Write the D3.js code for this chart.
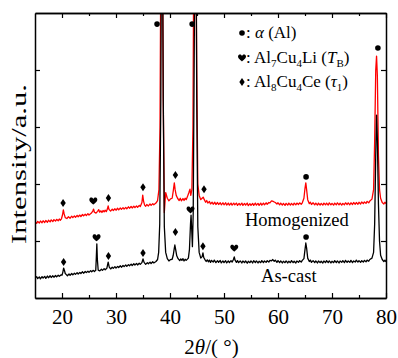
<!DOCTYPE html>
<html>
<head>
<meta charset="utf-8">
<script src="https://cdn.jsdelivr.net/npm/d3@7/dist/d3.min.js"></script>
<style>
  html, body { margin: 0; padding: 0; background: #fff; }
  svg { display: block; }
  text { font-family: "Liberation Serif", "Times New Roman", serif !important; fill: #000; }
</style>
</head>
<body>
<svg id="chart" width="398" height="358"></svg>
<script>
// ---------------- data ----------------
const xTickLabels = [20, 30, 40, 50, 60, 70, 80];
const xMinorTicks = [25, 35, 45, 55, 65, 75];
const yTicks = [200, 400, 600, 800];

// As-cast pattern: [2theta, intensity a.u.]
const asCast = [
  [15.0,70],[15.3,75],[15.5,68],[15.8,74],[16.0,67],[16.3,75],[16.5,70],[16.8,76],[17.0,69],[17.3,77],[17.5,71],[17.8,78],
  [18.0,72],[18.3,78],[18.5,73],[18.8,79],[19.0,74],[19.3,80],[19.5,76],[19.8,81],
  [20.0,80],[20.15,90],[20.3,105],[20.45,97],[20.6,86],[20.8,82],[21.0,78],[21.3,84],[21.5,80],[21.8,86],[22.0,81],[22.3,87],[22.5,83],
  [22.8,89],[23.0,84],[23.3,90],[23.5,86],[23.8,92],[24.0,87],[24.3,93],[24.5,89],[24.8,94],[25.0,90],[25.3,96],[25.5,92],[25.8,97],[26.0,93],
  [26.25,97],[26.35,140],[26.45,190],[26.55,135],[26.7,98],[27.0,95],[27.3,101],[27.5,97],[27.8,103],[28.0,99],
  [28.3,104],[28.55,126],[28.75,108],[29.0,102],[29.3,108],[29.5,104],[29.8,110],
  [30.0,105],[30.3,111],[30.5,107],[30.8,113],[31.0,108],[31.3,114],[31.5,110],[31.8,116],[32.0,111],[32.3,117],[32.5,113],
  [32.8,119],[33.0,114],[33.3,120],[33.5,116],[33.8,121],[34.0,116],[34.3,122],[34.5,118],
  [34.8,124],[35.0,137],[35.2,125],[35.5,118],[35.8,124],[36.0,120],[36.3,126],[36.5,121],[36.8,127],[37.0,123],[37.4,128],[37.7,135],[37.9,160],
  [38.1,260],[38.3,700],[38.45,1400],[38.6,1400],[38.75,700],[38.95,250],[39.2,160],[39.5,138],[39.8,130],[40.1,135],
  [40.4,136],[40.6,150],[40.8,175],[40.9,186],[41.05,170],[41.25,148],[41.5,138],[41.8,131],[42.0,137],[42.2,132],[42.4,138],[42.6,130],
  [42.8,136],[43.0,132],[43.4,140],[43.6,170],[43.8,260],[43.9,291],[44.0,250],[44.15,180],[44.3,300],[44.5,900],[44.65,1400],
  [44.8,1400],[44.95,700],[45.15,250],[45.4,160],[45.7,140],[45.95,145],[46.1,158],[46.25,142],[46.5,134],[46.7,128],[46.9,134],
  [47.1,127],[47.3,133],[47.5,125],[47.7,132],[48.0,126],[48.2,133],[48.5,124],[48.8,131],[49.0,125],[49.3,132],[49.5,123],[49.8,130],
  [50.0,124],[50.3,131],[50.5,123],[50.8,130],[51.0,124],[51.3,131],[51.5,126],
  [51.75,135],[51.9,144],[52.05,133],[52.3,125],[52.5,131],[52.7,124],[53.0,130],[53.3,123],[53.5,130],[53.8,124],[54.0,130],[54.3,122],
  [54.5,129],[54.8,124],[55.0,130],[55.3,123],[55.5,131],[55.8,124],[56.0,130],[56.3,123],[56.5,129],[56.8,124],[57.0,131],[57.3,124],
  [57.5,130],[57.8,125],[58.0,131],[58.3,126],[58.5,132],[58.8,130],[59.0,135],[59.3,129],[59.5,133],[59.8,125],[60.0,131],
  [60.3,124],[60.5,130],[60.8,123],[61.0,129],[61.3,124],[61.5,130],[61.8,123],[62.0,129],[62.3,124],[62.5,131],[62.8,124],[63.0,129],
  [63.3,123],[63.5,130],[63.8,125],[64.0,131],[64.3,126],[64.5,132],[64.8,138],
  [65.0,170],[65.15,193],[65.3,175],[65.5,140],[65.8,128],[66.0,133],[66.2,125],[66.5,131],[66.8,124],[67.0,130],[67.3,123],[67.5,130],
  [67.8,124],[68.0,129],[68.3,123],[68.5,130],[68.8,124],[69.0,131],[69.3,124],[69.5,130],[69.8,123],[70.0,129],[70.3,124],[70.5,131],
  [70.8,124],[71.0,130],[71.3,123],[71.5,130],[71.8,125],[72.0,131],[72.3,124],[72.5,132],[72.8,125],[73.0,130],[73.3,125],[73.5,132],
  [73.8,124],[74.0,130],[74.3,126],[74.5,133],[74.8,126],[75.0,131],[75.3,125],[75.5,131],[75.8,126],[76.0,132],[76.3,127],[76.5,133],
  [76.8,129],[77.0,135],[77.4,140],[77.7,160],
  [77.9,260],[78.1,500],[78.25,642],[78.4,560],[78.6,330],[78.8,200],[79.0,150],[79.3,135],[79.6,128],[79.8,133],[80.0,127]
];

// Homogenized pattern: [2theta, intensity a.u.]
const homogenized = [
  [15.0,267],[15.3,262],[15.5,269],[15.8,263],[16.0,270],[16.3,264],[16.5,271],[16.8,265],[17.0,272],[17.3,266],[17.5,273],[17.8,267],
  [18.0,274],[18.3,268],[18.5,275],[18.8,270],[19.0,276],[19.3,271],[19.5,277],[19.7,273],
  [19.9,278],[20.1,292],[20.25,309],[20.4,295],[20.6,282],[20.9,279],[21.2,285],[21.5,280],[21.8,287],[22.0,282],[22.3,288],[22.5,283],
  [22.8,290],[23.0,285],[23.3,291],[23.5,286],[23.8,293],[24.0,288],[24.3,294],[24.5,289],[24.8,296],[25.0,291],[25.4,297],[25.7,305],[25.85,312],[26.0,301],[26.3,298],
  [26.6,304],[26.8,310],[27.0,301],[27.2,306],[27.4,300],[27.6,307],[27.8,302],[28.0,308],[28.2,303],[28.4,312],[28.55,323],[28.7,311],[29.0,305],
  [29.3,312],[29.5,307],[29.8,313],[30.0,308],[30.3,315],[30.5,309],[30.8,316],[31.0,311],[31.3,317],[31.5,312],[31.8,318],[32.0,313],[32.3,320],
  [32.5,315],[32.8,321],[33.0,316],[33.3,322],[33.5,317],[33.8,323],[34.0,318],[34.3,325],
  [34.5,321],[34.8,335],[34.95,361],[35.1,340],[35.3,326],[35.5,322],[35.7,328],[36.0,323],[36.3,330],[36.5,325],[36.8,331],[37.0,327],[37.4,333],
  [37.7,342],[37.95,380],[38.15,600],[38.35,1400],[38.55,1400],[38.75,700],[38.95,300],[39.2,370],[39.5,350],[39.8,341],
  [40.1,348],[40.4,350],[40.6,375],[40.8,404],[40.95,380],[41.15,360],[41.4,350],[41.7,342],[41.9,350],[42.1,341],[42.4,349],[42.6,342],
  [42.8,350],[43.0,345],[43.2,354],[43.5,370],[43.7,382],[43.85,360],[44.05,380],[44.25,600],[44.45,1400],[44.75,1400],[44.95,800],
  [45.15,400],[45.4,360],[45.7,345],[45.95,350],[46.15,354],[46.35,345],[46.6,336],[46.8,342],[47.0,333],[47.3,339],[47.5,330],[47.8,336],
  [48.0,329],[48.3,336],[48.5,328],[48.8,335],[49.0,328],[49.3,334],[49.5,327],[49.8,334],[50.0,327],[50.3,334],[50.5,326],[50.8,333],
  [51.0,326],[51.3,333],[51.5,326],[51.8,333],[52.0,327],[52.3,333],[52.5,325],[52.8,332],[53.0,326],[53.3,333],[53.5,325],[53.8,332],
  [54.0,326],[54.3,333],[54.5,324],[54.8,331],[55.0,325],[55.3,332],[55.5,325],[55.8,333],[56.0,326],[56.3,332],[56.5,325],[56.8,333],
  [57.0,326],[57.3,333],[57.5,327],[57.8,334],[58.0,329],[58.3,335],[58.5,334],[58.8,341],[59.0,340],[59.3,337],[59.5,335],[59.8,330],
  [60.0,334],[60.3,327],[60.5,333],[60.8,326],[61.0,332],[61.3,325],[61.5,332],[61.8,326],[62.0,333],[62.3,326],[62.5,332],[62.8,326],
  [63.0,333],[63.3,327],[63.5,333],[63.8,328],[64.0,334],[64.3,329],[64.5,334],[64.8,350],[65.0,385],[65.15,404],[65.3,380],[65.5,345],
  [65.8,331],[66.0,336],[66.2,328],[66.5,334],[66.8,327],[67.0,333],[67.3,326],[67.5,333],[67.8,326],[68.0,332],[68.3,326],[68.5,333],
  [68.8,327],[69.0,333],[69.3,326],[69.5,334],[69.8,327],[70.0,332],[70.3,326],[70.5,333],[70.8,327],[71.0,334],[71.3,327],[71.5,333],
  [71.8,326],[72.0,332],[72.3,327],[72.5,334],[72.8,328],[73.0,334],[73.3,327],[73.5,334],[73.8,328],[74.0,335],[74.3,329],[74.5,335],
  [74.8,329],[75.0,336],[75.3,330],[75.5,337],[75.8,331],[76.0,337],[76.3,332],[76.5,339],[76.8,334],[77.0,340],[77.4,347],[77.7,380],
  [77.9,550],[78.1,800],[78.25,849],[78.4,780],[78.6,500],[78.8,380],[79.0,350],[79.3,335],[79.6,330],[79.8,336],[80.0,331]
];

// Phase markers: [2theta, intensity position, phase]
const asCastMarkers = [
  [20.3,126,"tau"],[26.4,211,"TB"],[28.6,147,"tau"],[35.0,158,"tau"],[41.0,232,"tau"],
  [43.8,309,"TB"],[46.1,182,"tau"],[51.9,175,"TB"],[65.2,214,"alpha"]
];
const homogenizedMarkers = [
  [20.2,333,"tau"],[25.8,340,"TB"],[28.6,351,"tau"],[35.0,389,"tau"],[41.0,432,"tau"],
  [46.3,382,"tau"],[65.2,425,"alpha"]
];
const topMarkers = [[37.6,961,"alpha"],[44.1,961,"alpha"],[78.5,877,"alpha"]];

const sampleLabels = ["Homogenized", "As-cast"];
const labelPositions = [[63.5,253], [62.0,57]]; // [2theta, intensity] of label baselines

// ---------------- chart ----------------
const svg = d3.select("#chart");
const L = 35, R = 386, T = 13, B = 298;
const x = d3.scaleLinear().domain([15, 80]).range([L, R]);
const y = d3.scaleLinear().domain([0, 1000]).range([B, T]);

svg.append("defs").append("clipPath").attr("id", "clip")
  .append("rect").attr("x", L).attr("y", T).attr("width", R - L).attr("height", B - T);

const line = d3.line().x(d => x(d[0])).y(d => y(d[1]));

const plot = svg.append("g").attr("clip-path", "url(#clip)");
plot.append("path").datum(homogenized).attr("d", line)
  .attr("fill", "none").attr("stroke", "#ff0000").attr("stroke-width", 1.3).attr("stroke-linejoin", "round");
plot.append("path").datum(asCast).attr("d", line)
  .attr("fill", "none").attr("stroke", "#000").attr("stroke-width", 1.3).attr("stroke-linejoin", "round");

// marker shapes
const heartPath = "M0,3.5 C-1,2.6 -4,0.6 -4,-1.4 C-4,-2.9 -3,-3.5 -2,-3.5 C-1,-3.5 -0.3,-2.8 0,-2 C0.3,-2.8 1,-3.5 2,-3.5 C3,-3.5 4,-2.9 4,-1.4 C4,0.6 1,2.6 0,3.5 Z";
const diamondPath = "M0,-4 L2.7,0 L0,4 L-2.7,0 Z";
function drawMarker(g, type, cx, cy) {
  if (type === "alpha") {
    g.append("circle").attr("cx", cx).attr("cy", cy).attr("r", 2.8).attr("fill", "#000");
  } else {
    g.append("path").attr("d", type === "TB" ? heartPath : diamondPath)
      .attr("transform", `translate(${cx},${cy})`).attr("fill", "#000");
  }
}
const mg = svg.append("g");
[...asCastMarkers, ...homogenizedMarkers, ...topMarkers].forEach(m => drawMarker(mg, m[2], x(m[0]), y(m[1])));

// axes
function styleAxis(g) {
  g.attr("font-family", null).attr("font-size", null);
  g.select(".domain").attr("stroke", "#000").attr("stroke-width", 1.5);
  g.selectAll(".tick line").attr("stroke", "#000").attr("stroke-width", 1.2);
}
const axBottom = svg.append("g").attr("transform", `translate(0,${B})`)
  .call(d3.axisBottom(x).tickValues(xTickLabels).tickSizeInner(-5).tickSizeOuter(0).tickPadding(11).tickFormat(d3.format("d")));
styleAxis(axBottom);
axBottom.selectAll(".tick text").style("font-size", "21px").style("font-family", "'Liberation Serif', serif").attr("fill", "#000");
const axBottomMinor = svg.append("g").attr("transform", `translate(0,${B})`)
  .call(d3.axisBottom(x).tickValues(xMinorTicks).tickSizeInner(-3).tickSizeOuter(0).tickFormat(""));
styleAxis(axBottomMinor);

const axTop = svg.append("g").attr("transform", `translate(0,${T})`)
  .call(d3.axisTop(x).tickValues(xTickLabels).tickSizeInner(-5).tickSizeOuter(0).tickFormat(""));
styleAxis(axTop);
const axTopMinor = svg.append("g").attr("transform", `translate(0,${T})`)
  .call(d3.axisTop(x).tickValues(xMinorTicks).tickSizeInner(-3).tickSizeOuter(0).tickFormat(""));
styleAxis(axTopMinor);

const axLeft = svg.append("g").attr("transform", `translate(${L},0)`)
  .call(d3.axisLeft(y).tickValues(yTicks).tickSizeInner(-5).tickSizeOuter(0).tickFormat(""));
styleAxis(axLeft);
const axRight = svg.append("g").attr("transform", `translate(${R},0)`)
  .call(d3.axisRight(y).tickValues(yTicks).tickSizeInner(-5).tickSizeOuter(0).tickFormat(""));
styleAxis(axRight);

// axis titles
const xt = svg.append("text").attr("x", (L + R) / 2 + 1).attr("y", 354)
  .attr("text-anchor", "middle").style("font-size", "21px");
xt.append("tspan").text("2");
xt.append("tspan").attr("font-style", "italic").text("θ");
xt.append("tspan").text("/( °)");

svg.append("text").attr("transform", "translate(26,164) rotate(-90)")
  .attr("text-anchor", "middle").style("font-size", "22px")
  .attr("textLength", 160).attr("lengthAdjust", "spacingAndGlyphs")
  .text("Intensity/a.u.");

// sample labels
sampleLabels.forEach((s, i) => {
  svg.append("text").attr("x", x(labelPositions[i][0])).attr("y", y(labelPositions[i][1]))
    .attr("text-anchor", "middle").style("font-size", "18.5px").text(s);
});

// legend
const legendRows = [
  { type: "alpha", parts: [[": ", ""], ["α", "i"], [" (Al)", ""]] },
  { type: "TB", parts: [[": Al", ""], ["7", "sub"], ["Cu", ""], ["4", "sub"], ["Li (", ""], ["T", "i"], ["B", "sub"], [")", ""]] },
  { type: "tau", parts: [[": Al", ""], ["8", "sub"], ["Cu", ""], ["4", "sub"], ["Ce (", ""], ["τ", "i"], ["1", "sub"], [")", ""]] }
];
const legendY = [38, 63, 87];
const lg = svg.append("g");
legendRows.forEach((row, i) => {
  drawMarker(lg, row.type, 242, legendY[i] - 5);
  const t = lg.append("text").attr("x", 246).attr("y", legendY[i]).style("font-size", "17px");
  let subbed = false;
  row.parts.forEach(p => {
    const ts = t.append("tspan").text(p[0]);
    if (p[1] === "i") ts.attr("font-style", "italic");
    if (p[1] === "sub") { ts.style("font-size", "11px").attr("dy", subbed ? 0 : 4); subbed = true; }
    else if (subbed) { ts.attr("dy", -4); subbed = false; }
  });
});
</script>
</body>
</html>
